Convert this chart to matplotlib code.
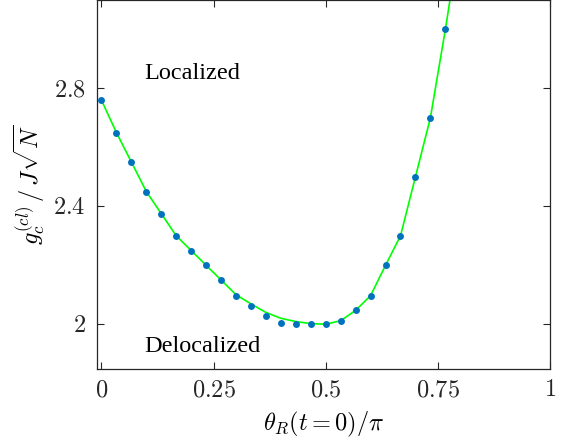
import matplotlib
matplotlib.use('Agg')
import matplotlib.pyplot as plt
import numpy as np

from matplotlib import rcParams
rcParams['mathtext.fontset'] = 'cm'
rcParams['font.family'] = 'serif'
rcParams['font.serif'] = ['Liberation Serif', 'DejaVu Serif']

# theta_R(t=0)/pi sampled at k/30
theta = np.arange(24) / 30.0
# critical coupling
gc = [2.76, 2.65, 2.55, 2.45, 2.375, 2.30, 2.25, 2.20, 2.15, 2.097,
      2.062, 2.027, 2.005, 2.0, 2.0, 2.0, 2.012, 2.047, 2.097, 2.20,
      2.30, 2.50, 2.70, 3.00]

# green fit line
fit_x = [0.0, 0.0333, 0.0667, 0.1, 0.1333, 0.1667, 0.2, 0.2333, 0.2667, 0.3,
         0.3333, 0.3667, 0.4, 0.4333, 0.4667, 0.5, 0.5333, 0.5667, 0.6, 0.6333,
         0.6667, 0.7, 0.7333, 0.7667, 0.777]
fit_y = [2.76, 2.65, 2.55, 2.45, 2.375, 2.30, 2.25, 2.20, 2.15, 2.10,
         2.069, 2.04, 2.02, 2.009, 2.002, 2.0, 2.012, 2.047, 2.097, 2.20,
         2.30, 2.50, 2.70, 3.00, 3.10]

xticks = [0, 0.25, 0.5, 0.75, 1]
yticks = [2, 2.4, 2.8]

fig = plt.figure(figsize=(5.63, 4.43), dpi=100)
ax = fig.add_axes([0.1723, 0.167, 0.8046, 0.833])

ax.plot(fit_x, fit_y, color='#00ff00', lw=1.2, zorder=2)
ax.plot(theta, gc, 'o', color='#0072bd', ms=5, mec='none', zorder=3)

ax.text(0.095, 2.833, 'Localized', fontsize=17.5)
ax.text(0.095, 1.907, 'Delocalized', fontsize=17.5)

ax.set_xlim(-0.01, 1.0)
ax.set_ylim(1.848, 3.1)
ax.set_xticks(xticks)
ax.set_xticklabels(['$%g$' % v for v in xticks])
ax.set_yticks(yticks)
ax.set_yticklabels(['$%g$' % v for v in yticks])
ax.tick_params(direction='in', top=True, right=True, length=5, width=0.8,
               labelsize=17.5, colors='#262626', pad=8)
for s in ax.spines.values():
    s.set_color('#262626')
    s.set_linewidth(0.9)

ax.set_xlabel(r'$\theta_R(t=0)/\pi$', fontsize=17.5, labelpad=6)
ax.set_ylabel(r'$g_c^{(cl)}\,/\,J\sqrt{N}$', fontsize=17.5, labelpad=5)

fig.savefig('out.png', dpi=100)
